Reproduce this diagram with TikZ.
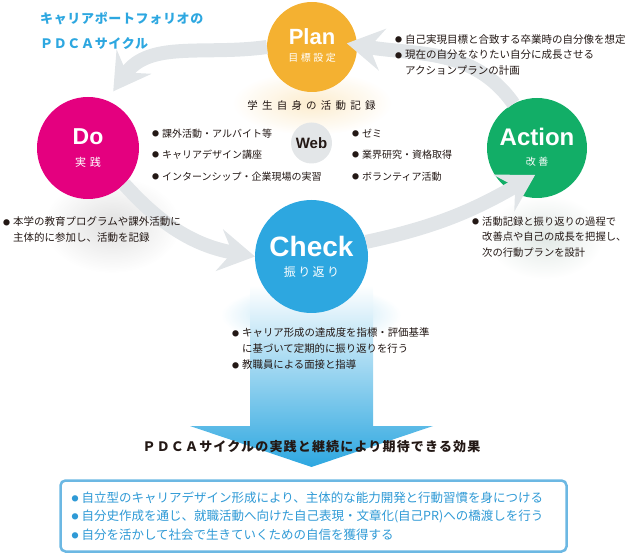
\documentclass[tikz,border=0pt]{standalone}
\usepackage{fontspec}
\setmainfont{Noto Sans CJK JP}
\newfontfamily\latinfont{Liberation Sans}
\usetikzlibrary{arrows.meta, positioning, fadings}
\definecolor{PlanYellow}{HTML}{F4B131}
\definecolor{DoMagenta}{HTML}{E4007F}
\definecolor{ActGreen}{HTML}{12AE67}
\definecolor{CheckSky}{HTML}{2DA7E0}
\definecolor{CycleGrey}{HTML}{E1E5E8}
\definecolor{WebGrey}{HTML}{E3E6E8}
\definecolor{NoteBlack}{HTML}{231815}
\definecolor{BoxBlue}{HTML}{6CB8E3}
\definecolor{BoxText}{HTML}{2F9AD6}
\tikzfading[name=glowfade, inner color=transparent!60, outer color=transparent!100]
\newcommand\dotmark{\makebox[10pt][l]{\raisebox{0.8pt}{\fontsize{7}{7}\selectfont●}}}
\newcommand\dotgap{\phantom{\dotmark}}

\begin{document}
\begin{tikzpicture}[x=1pt, y=1pt,
    phase/.style={circle, inner sep=0pt, outer sep=0pt},
    word/.style={anchor=base, text=white, font={\latinfont\bfseries\fontsize{#1}{#1}\selectfont}},
    subword/.style={anchor=base, text=white, font={\fontsize{#1}{#1}\selectfont}},
    cyc/.style={draw=CycleGrey, line width=14pt,
      -{Stealth[length=36pt, width=42pt, inset=13pt]}},
    note/.style={anchor=west, align=left, inner sep=0pt, text=NoteBlack},
    glow/.style={path fading=glowfade}
  ]
  \useasboundingbox (0,0) rectangle (635,555);

  % soft glows under the phases
  \fill[PlanYellow!60, glow] (312,452) ellipse (80 and 32);
  \fill[black!30, glow] (112,330) ellipse (68 and 48);
  \fill[CheckSky, glow] (311,240) ellipse (90 and 30);
  \fill[ActGreen!40!black!30, glow] (545,318) ellipse (58 and 42);

  % big arrow down to the effects
  \shade[top color=white, middle color=CheckSky!10, bottom color=CheckSky]
    (250,270) -- (373,270) -- (373,129) -- (433,129) -- (311.5,88)
    -- (190,129) -- (250,129) -- cycle;

  % the four phases
  \node[phase, fill=PlanYellow, minimum size=90pt] (plan) at (312,508) {};
  \node[phase, fill=DoMagenta, minimum size=102pt] (do) at (88,407) {};
  \node[phase, fill=ActGreen, minimum size=100pt] (action) at (537,407) {};
  \node[phase, fill=CheckSky, minimum size=113pt] (check) at (311.5,298.5) {};

  % cycle arrows
  \draw[cyc] (plan.west) to[out=188, in=55] ([shift={(66:62)}]do.center);
  \draw[cyc] (do.-45) to[out=-48, in=170] (check.west);
  \draw[cyc] (check.15) to[out=12, in=210] ([shift={(266:27)}]action.center);
  \draw[cyc] (action.118) to[out=125, in=-10] ([shift={(6:35)}]plan.center);

  \node[word=22] (planword) at ([yshift=2pt]plan.center) {Plan};
  \node[subword=10, font={\fontsize{10}{10}\selectfont\addfontfeature{LetterSpace=25}}]
    (plansub) at ([yshift=-15pt]plan.center) {目標設定};
  \node[word=23] (doword) at ([yshift=3pt]do.center) {Do};
  \node[subword=11, font={\fontsize{11}{11}\selectfont\addfontfeature{LetterSpace=35}}]
    (dosub) at ([yshift=-19pt]do.center) {実践};
  \node[word=24] (actword) at ([yshift=2pt]action.center) {Action};
  \node[subword=10, font={\fontsize{10}{10}\selectfont\addfontfeature{LetterSpace=25}}]
    (actsub) at ([yshift=-18pt]action.center) {改善};
  \node[word=28] (checkword) at ([yshift=0pt]check.center) {Check};
  \node[subword=12, font={\fontsize{12}{12}\selectfont\addfontfeature{LetterSpace=20}}]
    (checksub) at ([yshift=-20pt]check.center) {振り返り};

  % activity record
  \node[phase, fill=WebGrey, minimum size=41pt, text=NoteBlack,
    font=\latinfont\bfseries\fontsize{15}{15}\selectfont] (web) at (311.5,412) {Web};
  \node[text=NoteBlack, font={\fontsize{10.5}{10.5}\selectfont\addfontfeature{LetterSpace=40}}]
    (record) at (311.5,449) {学生自身の活動記録};
  \node[note, font=\fontsize{10}{21.5}\selectfont] (outside) at (152,400)
    {\dotmark 課外活動・アルバイト等\\\dotmark キャリアデザイン講座\\\dotmark インターンシップ・企業現場の実習};
  \node[note, font=\fontsize{10}{21.5}\selectfont] (seminar) at (352,400)
    {\dotmark ゼミ\\\dotmark 業界研究・資格取得\\\dotmark ボランティア活動};

  % notes
  \node[note, text=CheckSky, font={\bfseries\fontsize{13}{25}\selectfont\addfontfeature{LetterSpace=5}}]
    (title) at (40,524.5) {キャリアポートフォリオの\\ＰＤＣＡサイクル};
  \node[note, font=\fontsize{10.5}{15.5}\selectfont] (plannote) at (395,500)
    {\dotmark 自己実現目標と合致する卒業時の自分像を想定\\\dotmark 現在の自分をなりたい自分に成長させる\\\dotgap アクションプランの計画};
  \node[note, font=\fontsize{10.5}{16}\selectfont] (donote) at (3,325)
    {\dotmark 本学の教育プログラムや課外活動に\\\dotgap 主体的に参加し、活動を記録};
  \node[note, font=\fontsize{10.3}{15.5}\selectfont] (actnote) at (472,318)
    {\dotmark 活動記録と振り返りの過程で\\\dotgap 改善点や自己の成長を把握し、\\\dotgap 次の行動プランを設計};
  \node[note, font=\fontsize{10.4}{16}\selectfont] (checknote) at (232,206)
    {\dotmark キャリア形成の達成度を指標・評価基準\\\dotgap に基づいて定期的に振り返りを行う\\\dotmark 教職員による面接と指導};

  % effects
  \node[text=NoteBlack, font={\bfseries\fontsize{13}{13}\selectfont\addfontfeature{LetterSpace=9}}]
    (effect) at (311.5,108) {ＰＤＣＡサイクルの実践と継続により期待できる効果};
  \node[draw=BoxBlue, line width=2.5pt, rounded corners=5pt, fill=white,
    minimum width=506pt, minimum height=71pt, text width=484pt, inner xsep=11pt,
    align=left, text=BoxText, font=\fontsize{12.5}{18.5}\selectfont] (effects) at (313.5,39)
    {\dotmark 自立型のキャリアデザイン形成により、主体的な能力開発と行動習慣を身につける\\
     \dotmark 自分史作成を通じ、就職活動へ向けた自己表現・文章化(自己PR)への橋渡しを行う\\
     \dotmark 自分を活かして社会で生きていくための自信を獲得する};
\end{tikzpicture}
\end{document}
